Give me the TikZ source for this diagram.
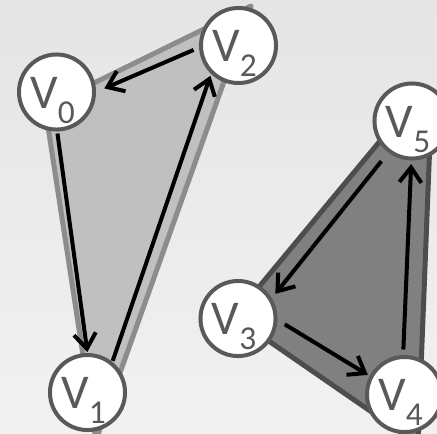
\documentclass[tikz,border=0pt]{standalone}
\usepackage{fontspec}
\setmainfont{Carlito}
\usetikzlibrary{arrows.meta}
\definecolor{bgtop}{RGB}{229,229,229}
\definecolor{bgbot}{RGB}{241,241,241}
\definecolor{lightface}{RGB}{192,192,192}
\definecolor{lightedge}{RGB}{140,140,140}
\definecolor{darkface}{RGB}{128,128,128}
\definecolor{darkedge}{RGB}{77,77,77}
\definecolor{vgray}{RGB}{89,89,89}

\newcommand{\vlabel}[1]{\kern-0.08cm V\raisebox{-0.15cm}{\fontsize{9.5}{10}\selectfont #1}}

\begin{document}
\begin{tikzpicture}[x=0.01cm, y=-0.01cm]
    \tikzstyle{vertex}=[circle, draw=vgray, fill=white, line width=0.04cm, minimum size=0.75cm, inner sep=0pt, text=vgray, font=\fontsize{13.8}{15}\selectfont, text height=0.32cm, text depth=0pt]
    \tikzstyle{arc}=[-{Straight Barb[length=0.15cm, width=0.22cm]}, line width=0.04cm]
    \tikzstyle{face}=[line width=0.05cm, line join=round]

    % Background
    \useasboundingbox (0,0) rectangle (437,433);
    \clip (0,0) rectangle (437,433);
    \fill[top color=bgtop, bottom color=bgbot] (0,0) rectangle (437,433);

    % Faces
    \filldraw[face, fill=lightface, draw=lightedge] (45,107) -- (96,440) -- (251,6) -- cycle;
    \filldraw[face, fill=darkface, draw=darkedge] (234,317) -- (418,444) -- (430,140) -- (419,94) -- cycle;

    % Vertices
    \foreach \name/\x/\y/\i in {v0/56.5/92/0, v1/87.5/392.5/1, v2/238.5/45.5/2, v3/238/318.5/3, v4/404.5/394.5/4, v5/412/121/5} {
        \node[vertex] (\name) at (\x,\y) {\vlabel{\i}};
    }

    % Directed edges
    \foreach \a/\b/\s/\t in {v2.183/v0.0/0.06cm/0.09cm, v0.271/v1.90/0.02cm/0.01cm, v1.51/v2.226/0.01cm/0.02cm, v5.233/v3.31/0.11cm/0.055cm, v3.358/v4.152/0.085cm/0.02cm, v4.92/v5.269/0.055cm/0.035cm} {
        \draw[arc, shorten <=\s, shorten >=\t] (\a) -- (\b);
    }
\end{tikzpicture}
\end{document}
